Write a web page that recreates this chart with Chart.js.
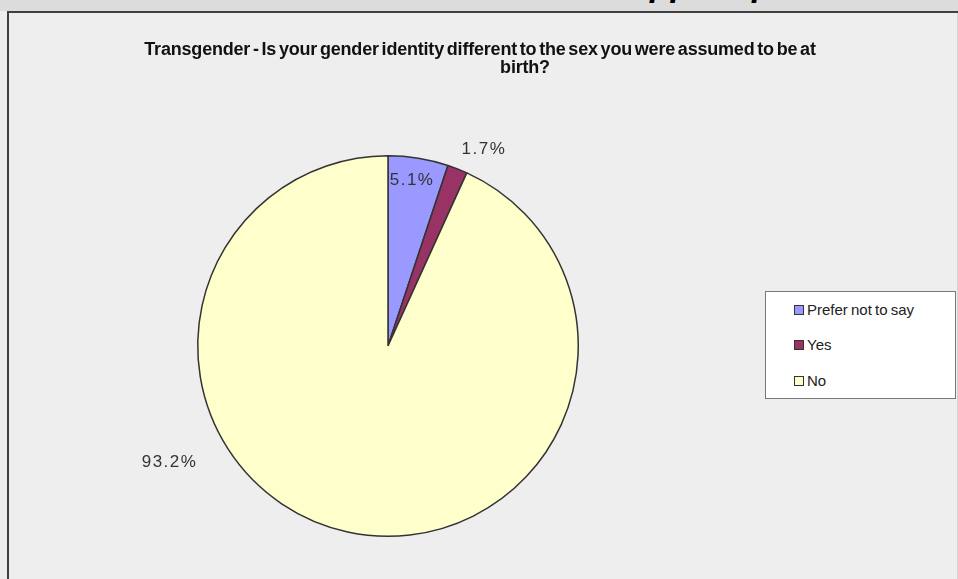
<!DOCTYPE html>
<html>
<head>
<meta charset="utf-8">
<script src="https://cdn.jsdelivr.net/npm/chart.js@4/dist/chart.umd.min.js"></script>
<style>
  html, body { margin: 0; padding: 0; }
  body { width: 958px; height: 579px; background: #eeeeee; position: relative; overflow: hidden;
         font-family: "Liberation Sans", Arial, sans-serif; }
  #strip { position: absolute; left: 0; top: 0; width: 958px; height: 11px; background: #dcdcdc; overflow: hidden; }
  #strip span { position: absolute; left: 599px; top: -33px; font: italic bold 34px/34px "Liberation Sans", Arial, sans-serif; color: #000; white-space: nowrap; }
  #frameTop { position: absolute; left: 7px; top: 11px; width: 951px; height: 2px; background: #404040; }
  #frameLeft { position: absolute; left: 7px; top: 11px; width: 2px; height: 568px; background: #404040; }
  #frameRight { position: absolute; left: 957px; top: 13px; width: 1px; height: 566px; background: #d4d4d4; }
  #wrap { position: absolute; left: 0; top: 0; width: 958px; height: 579px; }
  .title { position: absolute; font: bold 18px "Liberation Sans", Arial, sans-serif; color: #111;
           word-spacing: -2px; letter-spacing: -0.2px; white-space: nowrap; transform: translateX(-50%); line-height: 20px; }
  #legend { position: absolute; left: 765px; top: 291px; width: 189px; height: 106px; background: #ffffff;
            border: 1px solid #777777; }
  .item { position: absolute; left: 28px; height: 18px; line-height: 18px; font-size: 15px; color: #222;
          white-space: nowrap; word-spacing: -1px; }
  .swatch { position: absolute; left: 0; top: 4px; width: 8px; height: 8px; border: 1px solid #333; }
  .item span.txt { position: absolute; left: 13px; top: 0; }
</style>
</head>
<body>
<div id="strip"><span>Skipped question</span></div>
<div id="wrap"><canvas id="chart"></canvas></div>
<div id="frameTop"></div>
<div id="frameLeft"></div>
<div id="frameRight"></div>
<div class="title" style="left:480px; top:39px;">Transgender - Is your gender identity different to the sex you were assumed to be at</div>
<div class="title" style="left:525px; top:57px;">birth?</div>
<div id="legend"></div>
<script>
// Survey answers
const categories = ["Prefer not to say", "Yes", "No"];
const percentages = [5.1, 1.7, 93.2];
const valueLabels = ["5.1%", "1.7%", "93.2%"];

const sliceColors = ["#9999ff", "#993366", "#ffffcc"];

// Where each value label sits: angle shift from the slice middle (degrees)
// and distance from the centre as a fraction of the outer radius.
const labelPlacement = [
  { shift: -0.9, dist: 0.88 },
  { shift: 4.6, dist: 1.15 },
  { shift: 49.8, dist: 1.3 }
];

// Legend built from the category names
const legendEl = document.getElementById("legend");
const itemTops = [9, 44, 80];
categories.forEach((name, i) => {
  const it = document.createElement("div");
  it.className = "item";
  it.style.top = itemTops[i] + "px";
  const sw = document.createElement("div");
  sw.className = "swatch";
  sw.style.background = sliceColors[i];
  const tx = document.createElement("span");
  tx.className = "txt";
  tx.textContent = name;
  it.appendChild(sw);
  it.appendChild(tx);
  legendEl.appendChild(it);
});

const valueLabelPlugin = {
  id: "valueLabels",
  afterDatasetsDraw(chart) {
    const ctx = chart.ctx;
    const meta = chart.getDatasetMeta(0);
    ctx.save();
    ctx.font = "17px 'Liberation Sans', Arial, sans-serif";
    ctx.fillStyle = "#333333";
    ctx.textAlign = "center";
    ctx.textBaseline = "middle";
    if ("letterSpacing" in ctx) ctx.letterSpacing = "1.5px";
    meta.data.forEach((arc, i) => {
      const p = arc.getProps(["x", "y", "startAngle", "endAngle", "outerRadius"], true);
      const mid = (p.startAngle + p.endAngle) / 2 + labelPlacement[i].shift * Math.PI / 180;
      const r = p.outerRadius * labelPlacement[i].dist;
      ctx.fillText(valueLabels[i], p.x + Math.cos(mid) * r, p.y + Math.sin(mid) * r);
    });
    ctx.restore();
  }
};

new Chart(document.getElementById("chart"), {
  type: "pie",
  data: {
    labels: categories,
    datasets: [{
      data: percentages,
      backgroundColor: sliceColors,
      borderColor: "#333333",
      borderWidth: 1.5
    }]
  },
  options: {
    responsive: true,
    maintainAspectRatio: false,
    animation: false,
    layout: { padding: { left: 197, top: 155, right: 379, bottom: 42 } },
    plugins: {
      legend: { display: false },
      title: { display: false },
      tooltip: { enabled: false }
    }
  },
  plugins: [valueLabelPlugin]
});
</script>
</body>
</html>
